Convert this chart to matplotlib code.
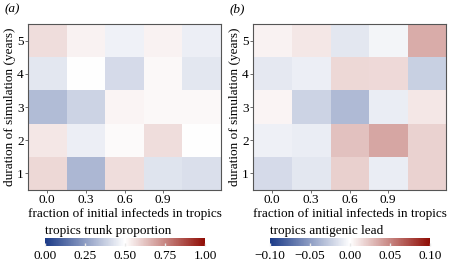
import numpy as np
import matplotlib
matplotlib.use("Agg")
import matplotlib.pyplot as plt
from matplotlib.colors import LinearSegmentedColormap

plt.rcParams['font.family'] = ['Liberation Serif', 'DejaVu Serif']
plt.rcParams['mathtext.fontset'] = 'stix'

# fraction of initial infecteds in tropics (columns) x duration in years (rows, 1..5)
fractions = ['0.0', '0.3', '0.6', '0.9']
years = [1, 2, 3, 4, 5]

# (a) tropics trunk proportion, rows = years 1..5
trunk = [
    [0.58, 0.32, 0.57, 0.43, 0.42],
    [0.55, 0.46, 0.51, 0.57, 0.50],
    [0.33, 0.39, 0.52, 0.515, 0.515],
    [0.44, 0.50, 0.41, 0.514, 0.44],
    [0.57, 0.527, 0.467, 0.525, 0.458],
]

# (b) tropics antigenic lead, rows = years 1..5
lead = [
    [-0.018, -0.012, 0.019, -0.009, 0.018],
    [-0.0075, -0.009, 0.025, 0.036, 0.018],
    [0.004, -0.022, -0.035, -0.009, 0.010],
    [-0.011, -0.008, 0.016, 0.015, -0.024],
    [0.005, 0.010, -0.012, -0.005, 0.034],
]

cmap = LinearSegmentedColormap.from_list('bwr_dark', ['#1c3b88', '#ffffff', '#900d05'])

fig = plt.figure(figsize=(4.5, 2.7), dpi=100)

panels = [
    (trunk, 0.0, 1.0, [0.0, 0.25, 0.5, 0.75, 1.0], '%.2f', 'tropics trunk proportion', '(a)', 28, 45),
    (lead, -0.1, 0.1, [-0.10, -0.05, 0.0, 0.05, 0.10], '%.2f', 'tropics antigenic lead', '(b)', 253, 270),
]

W, H = 450.0, 270.0
fs = 9.5
for data, vmin, vmax, cticks, fmt, clabel, tag, axl, cbl in panels:
    ax = fig.add_axes([axl / W, 1 - 190 / H, 193 / W, 166 / H])
    im = ax.imshow(np.array(data), origin='lower', aspect='auto', cmap=cmap,
                   vmin=vmin, vmax=vmax, interpolation='nearest')
    ax.set_xticks(range(len(fractions)))
    ax.set_xticklabels(fractions)
    ax.set_yticks(range(len(years)))
    ax.set_yticklabels([str(y) for y in years])
    ax.tick_params(labelsize=fs, length=2, width=0.6, color='#555555', pad=1)
    for s in ax.spines.values():
        s.set_color('#555555')
        s.set_linewidth(0.8)
    ax.set_xlabel('fraction of initial infecteds in tropics', fontsize=fs, labelpad=1)
    ax.set_ylabel('duration of simulation (years)', fontsize=fs, labelpad=1)
    fig.text((axl - 23) / W, 1 - 9 / H, tag, fontsize=fs, style='italic', va='center')

    cax = fig.add_axes([cbl / W, 1 - 246 / H, 160 / W, 8 / H])
    cb = fig.colorbar(im, cax=cax, orientation='horizontal', ticks=cticks)
    cb.outline.set_visible(False)
    cb.ax.tick_params(direction='in', length=2, width=1, color='#e8e8e8',
                      labelsize=fs, pad=3)
    cb.ax.set_xticklabels([(fmt % t).replace('-', '\u2212') for t in cticks])
    cax.set_title(clabel, fontsize=fs, loc='left', pad=3)

fig.savefig('out.png', dpi=100)
